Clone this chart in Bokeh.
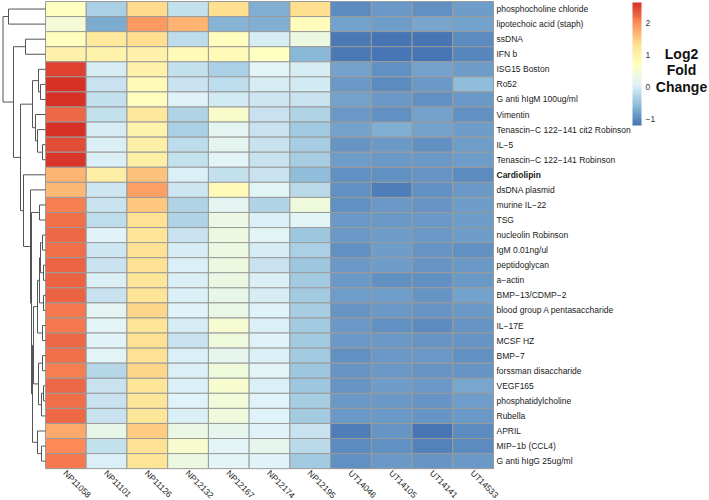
import numpy as np
from bokeh.plotting import figure
from bokeh.models import Range1d, LinearColorMapper, ColorBar, FixedTicker, ColumnDataSource
from bokeh.embed import file_html
from bokeh.resources import INLINE
from bokeh.core.properties import value

# ---------------- data ----------------
samples = ["NP11058", "NP11101", "NP11126", "NP12132", "NP12167", "NP12174",
           "NP12195", "UT14046", "UT14105", "UT14141", "UT14533"]

antigens = ["phosphocholine chloride", "lipotechoic acid (staph)", "ssDNA", "IFN b",
            "ISG15 Boston", "Ro52", "G anti hIgM 100ug/ml", "Vimentin",
            "Tenascin\u2212C 122\u2212141 cit2 Robinson", "IL\u22125",
            "Tenascin\u2212C 122\u2212141 Robinson", "Cardiolipin", "dsDNA plasmid",
            "murine IL\u221222", "TSG", "nucleolin Robinson", "IgM 0.01ng/ul",
            "peptidoglycan", "a\u2212actin", "BMP\u221213/CDMP\u22122",
            "blood group A pentasaccharide", "IL\u221217E", "MCSF HZ", "BMP\u22127",
            "forssman disaccharide", "VEGF165", "phosphatidylcholine", "Rubella",
            "APRIL", "MIP\u22121b (CCL4)", "G anti hIgG 25ug/ml"]

bold_label = "Cardiolipin"

# log2 fold change, one list per sample (rows in antigen order)
NP11058 = [0.70, 0.45, 0.75, 1.00, 2.50, 2.65, 2.63, 2.25, 2.65, 2.45, 2.60, 1.72, 1.68, 2.10, 2.20, 2.25,
           2.20, 2.30, 2.30, 2.30, 2.12, 2.12, 2.25, 2.20, 2.08, 2.25, 2.22, 2.25, 1.78, 2.00, 2.12]
NP11101 = [-0.35, -0.72, 1.20, 0.95, 0.00, -0.10, -0.15, -0.15, 0.00, 0.05, 0.05, 1.10, -0.08, -0.12, -0.18, 0.07,
           -0.08, -0.12, 0.05, -0.10, 0.15, 0.12, 0.08, 0.10, -0.27, -0.12, -0.10, -0.12, 0.22, -0.15, 0.02]
NP11126 = [1.40, 1.90, 1.35, 1.00, 1.00, 0.80, 0.75, 1.20, 0.95, 1.05, 1.05, 1.60, 1.85, 1.55, 1.30, 1.25,
           1.30, 1.30, 1.25, 1.28, 1.42, 1.25, 1.30, 1.30, 1.42, 1.25, 1.25, 1.25, 1.52, 1.30, 1.28]
NP12132 = [-0.15, 1.70, -0.20, 0.80, -0.15, -0.10, 0.07, -0.30, -0.35, -0.20, -0.15, 0.02, -0.08, -0.30, -0.30, -0.12,
           0.00, 0.02, 0.05, 0.05, 0.07, 0.00, -0.12, 0.03, 0.05, 0.02, 0.07, 0.05, 0.30, 0.55, 0.35]
NP12167 = [1.35, -0.65, 0.75, 0.80, -0.35, -0.20, -0.05, 0.58, 0.15, 0.15, 0.12, -0.15, 0.80, 0.15, 0.30, 0.35,
           0.35, 0.35, 0.30, 0.25, 0.28, 0.50, 0.40, 0.20, 0.38, 0.55, 0.42, 0.38, 0.18, 0.10, 0.12]
NP12174 = [-0.70, -0.70, 0.00, 0.70, 0.10, 0.00, -0.08, -0.13, -0.13, -0.10, -0.10, -0.12, 0.10, -0.30, 0.05, 0.10,
           0.00, -0.10, 0.02, 0.00, 0.06, 0.05, 0.08, 0.03, 0.10, 0.05, 0.07, 0.06, 0.08, 0.18, 0.07]
NP12195 = [1.35, 0.78, 0.35, -0.62, 0.00, -0.05, -0.12, -0.30, -0.42, -0.40, -0.40, -0.60, -0.22, 0.40, 0.12, -0.47,
           -0.35, -0.46, -0.42, -0.44, -0.40, -0.43, -0.42, -0.42, -0.45, -0.47, -0.40, -0.43, -0.12, -0.25, -0.42]
UT14046 = [-1.00, -0.80, -1.17, -1.15, -0.80, -0.90, -0.82, -0.90, -0.83, -0.93, -0.86, -0.98, -0.97, -0.95, -0.90, -0.90,
           -0.98, -0.90, -0.88, -0.86, -0.93, -0.90, -0.90, -0.97, -0.93, -0.92, -0.90, -0.90, -1.12, -1.00, -0.95]
UT14105 = [-0.90, -0.85, -1.22, -1.22, -0.97, -1.00, -0.88, -0.98, -0.70, -0.90, -0.88, -0.98, -1.12, -0.90, -0.90, -0.87,
           -0.86, -0.86, -0.95, -0.86, -0.90, -0.95, -0.88, -0.88, -0.88, -0.86, -0.90, -0.90, -0.93, -0.95, -0.90]
UT14141 = [-0.95, -0.78, -1.20, -1.20, -0.80, -0.90, -0.95, -0.80, -0.83, -0.95, -0.90, -0.93, -0.98, -0.93, -0.90, -0.90,
           -0.93, -0.92, -0.95, -0.92, -0.93, -1.02, -0.93, -0.90, -0.92, -0.90, -0.92, -0.93, -1.20, -1.08, -0.93]
UT14533 = [-0.85, -0.80, -1.02, -1.05, -0.85, -0.60, -0.90, -0.98, -0.85, -0.85, -0.85, -1.00, -0.90, -0.85, -0.85, -0.85,
           -0.95, -0.90, -0.90, -0.82, -0.90, -0.92, -0.92, -0.96, -0.93, -0.77, -0.86, -0.90, -1.02, -1.00, -0.90]

columns = [NP11058, NP11101, NP11126, NP12132, NP12167, NP12174, NP12195,
           UT14046, UT14105, UT14141, UT14533]

# row dendrogram: (left child, right child, merge height); leaves 0..30, merges numbered from 31
row_merges = [
    (0, 1, 37.0), (2, 3, 20.0), (5, 6, 5.0), (4, 33, 7.0), (9, 10, 3.0), (8, 35, 8.0),
    (7, 36, 10.0), (34, 37, 13.0), (13, 14, 6.0), (15, 16, 3.0), (17, 18, 2.0), (40, 41, 5.0),
    (19, 20, 2.0), (42, 43, 6.0), (21, 22, 3.0), (44, 45, 8.0), (23, 24, 3.0), (25, 26, 2.0),
    (48, 27, 4.0), (47, 49, 7.0), (46, 50, 12.0), (29, 30, 4.0), (28, 52, 8.0), (51, 53, 13.0),
    (39, 54, 14.0), (12, 55, 15.0), (11, 56, 22.0), (38, 57, 25.0), (32, 58, 32.0), (31, 59, 42.5),
]

legend_ticks = [-1, 0, 1, 2]
legend_title = ["Log2", "Fold", "Change"]

# ---------------- layout ----------------
W, H = 709, 500
CW, RH = 40.73, 15.07         # cell size in px
LEFT, TOP = 45.0, 1.0         # heatmap top-left in px
DENDRO_W = 42.5               # px

n_rows, n_cols = len(antigens), len(samples)

def fx(px):
    return (px - LEFT) / CW

def fy(py):
    return n_rows - (py - TOP) / RH

def row_y(r):
    return n_rows - r - 0.5

# palette: colorRampPalette(rev(brewer.pal(7, "RdYlBu")))(100)
base = ["#4575B4", "#91BFDB", "#E0F3F8", "#FFFFBF", "#FEE090", "#FC8D59", "#D73027"]
rgb = np.array([[int(c[i:i + 2], 16) for i in (1, 3, 5)] for c in base], dtype=float)
pos = np.linspace(0, 1, len(base))
t = np.linspace(0, 1, 100)
pal = []
for tt in t:
    r = np.interp(tt, pos, rgb[:, 0]); g = np.interp(tt, pos, rgb[:, 1]); b = np.interp(tt, pos, rgb[:, 2])
    pal.append("#%02x%02x%02x" % (int(round(r)), int(round(g)), int(round(b))))

vals = np.array(columns).T   # rows x cols
mapper = LinearColorMapper(palette=pal, low=float(vals.min()), high=float(vals.max()))

p = figure(width=W, height=H, output_backend="svg", toolbar_location=None,
           x_range=Range1d(fx(0), fx(W)), y_range=Range1d(fy(H), fy(0)),
           x_axis_type=None, y_axis_type=None, min_border=0)
p.outline_line_color = None
p.grid.visible = False
p.background_fill_color = "white"

# heatmap cells
xs, ys, vs = [], [], []
for r in range(n_rows):
    for c in range(n_cols):
        xs.append(c + 0.5); ys.append(row_y(r)); vs.append(vals[r, c])
src = ColumnDataSource(dict(x=xs, y=ys, v=vs))
p.rect(x="x", y="y", width=1, height=1, source=src,
       fill_color={"field": "v", "transform": mapper}, line_color="#9a9a9a", line_width=1)

# dendrogram
node_y = {i: row_y(i) for i in range(n_rows)}
node_h = {i: 0.0 for i in range(n_rows)}
hmax = max(m[2] for m in row_merges)
hx = lambda h: -h / hmax * DENDRO_W / CW
seg = dict(x0=[], y0=[], x1=[], y1=[])
for k, (a, b, h) in enumerate(row_merges):
    nid = n_rows + k
    xa, xb, xn = hx(node_h[a]), hx(node_h[b]), hx(h)
    ya, yb = node_y[a], node_y[b]
    for (x0, y0, x1, y1) in [(xn, ya, xn, yb), (xn, ya, xa, ya), (xn, yb, xb, yb)]:
        seg["x0"].append(x0); seg["y0"].append(y0); seg["x1"].append(x1); seg["y1"].append(y1)
    node_y[nid] = (ya + yb) / 2
    node_h[nid] = h
p.segment(x0="x0", y0="y0", x1="x1", y1="y1", source=ColumnDataSource(seg),
          line_color="#555555", line_width=1)

# row labels
font = value("Liberation Sans")
norm_idx = [i for i, a in enumerate(antigens) if a != bold_label]
bold_idx = [i for i, a in enumerate(antigens) if a == bold_label]
p.text(x=[fx(496)] * len(norm_idx), y=[row_y(i) for i in norm_idx], text=[antigens[i] for i in norm_idx],
       text_font=font, text_font_size="8.5px", text_color="#1a1a1a",
       text_align="left", text_baseline="middle")
p.text(x=[fx(496)] * len(bold_idx), y=[row_y(i) for i in bold_idx], text=[antigens[i] for i in bold_idx],
       text_font=font, text_font_size="8.5px", text_color="#1a1a1a", text_font_style="bold",
       text_align="left", text_baseline="middle")

# column labels
p.text(x=[c + 0.5 - 1.0 / CW for c in range(n_cols)], y=[-3.0 / RH] * n_cols, text=samples,
       angle=-np.pi / 4, text_font=font, text_font_size="8.5px", text_color="#1a1a1a",
       text_align="left", text_baseline="middle")

# color bar
CB_H, CB_TOP = 123, 2
cb = ColorBar(color_mapper=mapper, ticker=FixedTicker(ticks=legend_ticks),
              major_label_overrides={-1: "\u22121"}, width=9, height=CB_H,
              location=(632, H - CB_TOP - CB_H), padding=0, label_standoff=4, margin=0,
              major_tick_line_color=None, minor_tick_line_color=None, bar_line_color=None,
              border_line_color=None, background_fill_alpha=0,
              major_label_text_font="Liberation Sans", major_label_text_font_size="8.5px",
              major_label_text_color="#333333")
p.add_layout(cb, "center")

# legend title
p.text(x=[fx(681)] * 3, y=[fy(53), fy(69.5), fy(86)], text=legend_title,
       text_font=font, text_font_size="14px", text_font_style="bold", text_color="#111111",
       text_align="center", text_baseline="middle")

open("out.html", "w").write(file_html(p, INLINE))
